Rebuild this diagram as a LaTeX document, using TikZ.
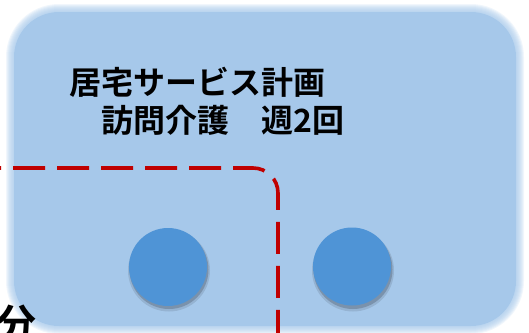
\documentclass[tikz,border=0pt]{standalone}
\usepackage{fontspec}
\newfontfamily\jpfont{Noto Sans CJK JP Bold}
\definecolor{boxblue}{HTML}{A6C8EA}
\definecolor{dotblue}{HTML}{4F94D6}
\definecolor{dashred}{HTML}{C00000}
\tikzset{
  label text/.style={font=\jpfont\fontsize{32}{36}\selectfont, inner sep=0pt, text=black},
  dot/.style={circle, fill=dotblue, minimum size=78pt, inner sep=0pt},
  route/.style={draw=dashred, line width=3.6pt, dash pattern=on 32pt off 12pt, dash phase=31pt},
}
\begin{document}
\begin{tikzpicture}[x=1pt,y=-1pt]
\useasboundingbox (0,0) rectangle (529,332);
% soft-edged background box
\foreach \i in {8,7,...,1}{
  \fill[boxblue, fill opacity=0.16, rounded corners={45pt+\i pt}]
    ({14-\i},{12-\i}) rectangle ({516+\i},{326+\i});
}
\fill[boxblue, rounded corners=45pt] (14,12) rectangle (516,326);
% texts
\node[label text, anchor=base west] (t1) at (69,94) {居宅サービス計画};
\node[label text, anchor=base west] (t2) at (101,132) {訪問介護　週2回};
% partial character at bottom left
\node[font=\jpfont\fontsize{40}{44}\selectfont, inner sep=0pt, anchor=north west] (bun) at (-4,305) {分};
% red dashed route
\coordinate (rs) at (0,168);
\coordinate (re) at (278,340);
\draw[route] (rs) -- (253,168) arc[start angle=-90, end angle=0, radius=25] -- (re);
% circle shadows
\foreach \cx in {168,352}{
  \fill[black, opacity=0.10] (\cx+1,270.5) circle (41);
  \fill[black, opacity=0.18] (\cx+1,269.5) circle (39.5);
}
\node[dot] (c1) at (168,267) {};
\node[dot] (c2) at (352,266.5) {};
\end{tikzpicture}
\end{document}
